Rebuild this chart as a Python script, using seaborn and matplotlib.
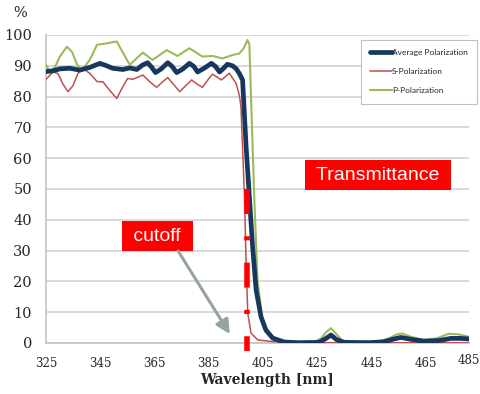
import matplotlib
matplotlib.use("Agg")
import matplotlib.pyplot as plt
import pandas as pd
import seaborn as sns

# ---- data ----
avg_nm = [325, 327.6, 330.1, 333.8, 337.5, 341.2, 344.9, 347.4, 349.6, 353.3, 355.9, 358.5,
          360.5, 362.5, 364.0, 365.4, 367.5, 369.9, 371.5, 373.2, 375.5, 377.9, 379.5, 380.9,
          383.5, 386.0, 387.5, 389.0, 390.5, 391.9, 393.8, 395.2, 396.3, 397.5, 398.8, 400.0,
          401.2, 402.5, 404.3, 406.1, 408.6, 412.9, 418.4, 425.7, 428.3, 430.1, 432.0, 434.9,
          444.1, 449.6, 453.3, 455.9, 459.6, 464.3, 469.9, 474.3, 478.0, 481.0]
avg_pct = [88.1, 88.4, 89.0, 89.2, 88.6, 89.5, 90.8, 90.0, 89.2, 88.8, 89.3, 88.8,
           90.2, 91.0, 89.5, 87.8, 89.0, 91.0, 89.8, 87.8, 89.0, 90.8, 89.8, 88.0,
           89.3, 90.8, 89.8, 88.0, 89.2, 90.5, 90.0, 89.0, 87.5, 85.4, 63.7, 47.5,
           31.3, 17.2, 8.5, 4.2, 1.6, 0.3, 0.1, 0.2, 1.5, 2.6, 1.2, 0.2,
           0.1, 0.4, 1.3, 1.8, 1.2, 0.6, 0.8, 1.5, 1.5, 1.3]

s_nm = [325, 327.6, 329.4, 331.3, 333.1, 334.9, 336.8, 338.6, 341.2, 343.8, 346.0, 348.5,
        351.1, 352.9, 355.1, 357.0, 360.7, 363.3, 365.8, 368.0, 369.9, 372.0, 374.3, 376.5,
        378.7, 380.8, 382.7, 384.5, 386.4, 388.0, 389.7, 392.6, 395.1, 396.3, 396.9, 398.2,
        398.8, 399.4, 400.6, 403.1, 409.2, 418.4, 481.0]
s_pct = [85.6, 88.0, 87.5, 84.0, 81.6, 83.5, 87.5, 89.2, 87.5, 84.9, 84.8, 82.0,
         79.4, 82.5, 85.9, 85.6, 87.0, 84.8, 83.0, 84.8, 86.2, 84.0, 81.6, 83.5,
         85.4, 84.0, 83.0, 85.2, 87.3, 86.4, 85.4, 87.6, 84.3, 80.5, 76.7, 47.5,
         26.0, 9.7, 3.2, 1.0, 0.4, 0.1, 0.1]

p_nm = [325, 326.5, 328.3, 330.1, 332.7, 334.6, 336.4, 338.2, 341.2, 343.8, 347.4, 351.1,
        352.9, 355.9, 358.5, 360.7, 364.3, 369.5, 373.5, 377.9, 382.7, 386.4, 390.1, 393.8,
        396.3, 397.8, 399.3, 400.0, 400.6, 401.8, 403.0, 404.8, 406.6, 409.2, 414.7, 423.9,
        426.5, 428.3, 430.1, 432.0, 434.2, 440.4, 447.8, 451.5, 454.4, 456.3, 459.6, 464.3,
        469.1, 473.5, 477.2, 481.0]
p_pct = [90.3, 88.0, 89.5, 93.0, 96.2, 94.5, 90.5, 88.5, 92.0, 96.8, 97.3, 97.9,
         95.0, 90.3, 92.5, 94.3, 91.9, 95.1, 93.2, 95.7, 93.0, 93.2, 92.4, 93.5,
         94.0, 95.5, 98.4, 97.0, 80.0, 47.5, 20.5, 7.5, 3.2, 1.0, 0.3, 0.4,
         1.5, 3.5, 4.8, 3.0, 0.8, 0.3, 0.5, 1.5, 2.8, 3.1, 2.0, 1.0,
         1.5, 3.0, 2.8, 2.0]

x_ticks = [325, 345, 365, 385, 405, 425, 445, 465, 485]
y_ticks = [0, 10, 20, 30, 40, 50, 60, 70, 80, 90, 100]
series_names = ["Average Polarization", "S-Polarization", "P-Polarization"]
series_colors = ["#17375e", "#c0504d", "#9bbb59"]
cutoff_nm = 399.3
cutoff_top = 50

sns.set_theme(style="white")
plt.rcParams["font.family"] = ["DejaVu Serif"]

fig = plt.figure(figsize=(4.81, 3.94), dpi=100)
ax = fig.add_axes([46 / 481, 51 / 394, 423 / 481, 308 / 394])

df_avg = pd.DataFrame({"nm": avg_nm, "pct": avg_pct})
df_s = pd.DataFrame({"nm": s_nm, "pct": s_pct})
df_p = pd.DataFrame({"nm": p_nm, "pct": p_pct})

sns.lineplot(data=df_s, x="nm", y="pct", ax=ax, color=series_colors[1], lw=1.1,
             label=series_names[1], zorder=3)
sns.lineplot(data=df_p, x="nm", y="pct", ax=ax, color=series_colors[2], lw=1.5,
             label=series_names[2], zorder=3)
sns.lineplot(data=df_avg, x="nm", y="pct", ax=ax, color=series_colors[0], lw=3.4,
             label=series_names[0], zorder=4)

# cutoff dashed marker
ax.plot([cutoff_nm, cutoff_nm], [cutoff_top, -2.5], color="#ff0000", lw=4.0,
        linestyle=(0, (4.5, 4.0, 0.75, 4.0)), solid_capstyle="butt",
        dash_capstyle="butt", clip_on=False, zorder=5)

ax.set_xlim(325, 481)
ax.set_ylim(0, 100)
ax.set_xticks([t for t in x_ticks if t <= 481])
ax.set_yticks(y_ticks)
ax.tick_params(axis="x", labelsize=8.5, length=4, color="#bfbfbf", pad=6, width=1)
ax.tick_params(axis="y", labelsize=10.5, length=3, color="#d9d9d9", pad=7, width=1)
ax.text(485, -0.035, "485", transform=ax.get_xaxis_transform(), ha="right", va="top",
        fontsize=8.5)

ax.grid(axis="y", color="#d0d0d0", lw=1.1)
ax.set_axisbelow(True)
for side in ["top", "right"]:
    ax.spines[side].set_visible(False)
for side in ["left", "bottom"]:
    ax.spines[side].set_color("#bfbfbf")
    ax.spines[side].set_linewidth(1.1)

ax.set_xlabel("Wavelength [nm]", fontsize=10, fontweight="bold")
ax.xaxis.set_label_coords(0.522, -0.098)
ax.set_ylabel("")
fig.text(20 / 481, 1 - 13 / 394, "%", fontsize=10.5, ha="center", va="center")

# legend
h, l = ax.get_legend_handles_labels()
order = [l.index(n) for n in series_names]
leg = ax.legend([h[i] for i in order], [l[i] for i in order],
                loc="upper left", bbox_to_anchor=(361 / 481, 1 - 40 / 394),
                bbox_transform=fig.transFigure,
                prop={"family": "Lato", "size": 6}, frameon=True, fancybox=False,
                edgecolor="#bfbfbf", framealpha=1, borderpad=1.1,
                labelspacing=1.45, handlelength=2.6, handletextpad=0.0,
                borderaxespad=0)
leg.get_frame().set_linewidth(0.8)

# annotations
ax.text(447.4, 54.5, " Transmittance ", color="white", fontsize=14,
        family="Liberation Sans", ha="center", va="center",
        bbox=dict(boxstyle="square,pad=0.33", fc="#ff0000", ec="none"), zorder=6)
ax.text(366.1, 34.7, " cutoff ", color="white", fontsize=14,
        family="Liberation Sans", ha="center", va="center",
        bbox=dict(boxstyle="square,pad=0.33", fc="#ff0000", ec="none"), zorder=6)
ax.annotate("", xy=(392.8, 2.9), xytext=(373.7, 29.9),
            arrowprops=dict(arrowstyle="-|>,head_length=0.7,head_width=0.35",
                            color="#95a59d", lw=2.2, shrinkA=0, shrinkB=0), zorder=6)

fig.savefig("out.png", dpi=100)
